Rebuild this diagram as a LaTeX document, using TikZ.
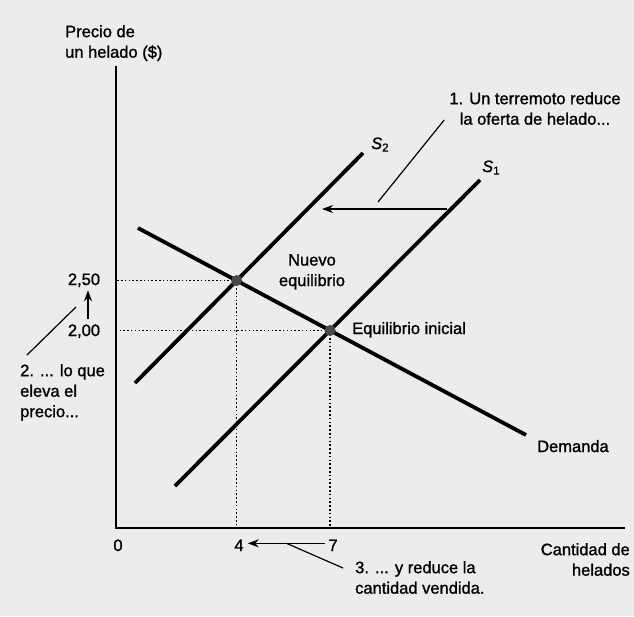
\documentclass[tikz,border=0pt]{standalone}
\usepackage{fontspec}
\setmainfont{Liberation Sans}[FakeBold=1.2]
\usepackage{tikz}
\usetikzlibrary{arrows.meta, positioning, calc}

\begin{document}
\begin{tikzpicture}[x=1pt, y=-1pt, font=\fontsize{16.5}{20.5}\selectfont,
    curve/.style={line width=3.8pt},
    guide/.style={line width=1.4pt, dash pattern=on 1.5pt off 2.3pt},
    shiftarrow/.style={line width=1.5pt, -{Stealth[length=11pt, width=8pt]}},
    leader/.style={line width=1.2pt},
    lbl/.style={inner sep=0pt}]
    % Background
    \fill[gray!15] (0,0) rectangle (634,616);
    \useasboundingbox (0,0) rectangle (634,616);

    % Axes
    \coordinate (O) at (116,528);
    \coordinate (ytop) at (116,66);
    \coordinate (xend) at (625,528);
    \draw[line width=1.9pt] (ytop) -- (O) -- (xend);
    \node[lbl, anchor=north west, align=left] (ylab) at (65,25) {Precio de\\un helado (\$)};
    \node[lbl, anchor=north east, align=right] (xlab) at (630,543) {Cantidad de\\helados};

    % Curves
    \coordinate (d1) at (138,228);
    \coordinate (d2) at (526,435);
    \coordinate (s1a) at (175,486);
    \coordinate (s1b) at (480,180);
    \coordinate (s2a) at (135,383);
    \coordinate (s2b) at (363,153);
    \coordinate (e1) at (intersection of d1--d2 and s1a--s1b);
    \coordinate (e2) at (intersection of d1--d2 and s2a--s2b);

    % Guides
    \draw[guide] (e1) -- (e1 -| O);
    \draw[guide] (e1) -- (e1 |- O);
    \draw[guide] (e2) -- (e2 -| O);
    \draw[guide] (e2) -- (e2 |- O);

    \draw[curve] (d1) -- (d2);
    \draw[curve] (s1a) -- (s1b);
    \draw[curve] (s2a) -- (s2b);
    \node[lbl, anchor=base west] (dlab) at (537,452) {Demanda};
    \node[lbl, anchor=base west] (s1lab) at (482,172) {\textit{S}\textsubscript{1}};
    \node[lbl, anchor=base west] (s2lab) at (371,149) {\textit{S}\textsubscript{2}};

    % Points
    \fill[black!72] (e1) circle (5.5pt);
    \fill[black!72] (e2) circle (5.5pt);
    \node[lbl, anchor=base west] (e1lab) at (352,334) {Equilibrio inicial};
    \node[lbl, anchor=north, align=center] (e2lab) at (312,254) {Nuevo\\equilibrio};

    % Ticks
    \node[lbl, anchor=base] (p250) at (84,285) {2,50};
    \node[lbl, anchor=base] (p200) at (84,336) {2,00};
    \node[lbl, anchor=base] (q0) at (118,551) {0};
    \node[lbl, anchor=base] (q4) at (239,551) {4};
    \node[lbl, anchor=base] (q7) at (333,551) {7};

    % Shifts
    \coordinate (a1) at (447,209);
    \coordinate (a2) at (322,209);
    \draw[shiftarrow] (a1) -- (a2);
    \draw[shiftarrow] ([xshift=4pt, yshift=5pt]p200.north) -- ([xshift=4pt, yshift=-3pt]p250.south);
    \draw[shiftarrow] ([xshift=-3pt, yshift=2pt]q7.west) -- ([xshift=4pt, yshift=2pt]q4.east)
        coordinate[pos=0.5] (m3);

    % Notes
    \node[lbl, anchor=north, align=center] (t1) at (535,92) {1. Un terremoto reduce\\la oferta de helado...};
    \coordinate (l1) at (378,202);
    \draw[leader] ([xshift=-5pt, yshift=5pt]t1.south west) -- (l1);
    \node[lbl, anchor=north west, align=left] (t2) at (20,364) {2. ... lo que\\eleva el\\precio...};
    \coordinate (l2) at (76,307);
    \draw[leader] (l2) -- ([xshift=7pt, yshift=9pt]t2.north west);
    \node[lbl, anchor=north west, align=left] (t3) at (355,561) {3. ... y reduce la\\cantidad vendida.};
    \draw[leader] (m3) -- ([xshift=-12pt, yshift=-7pt]t3.north west);
  \end{tikzpicture}
\end{document}
